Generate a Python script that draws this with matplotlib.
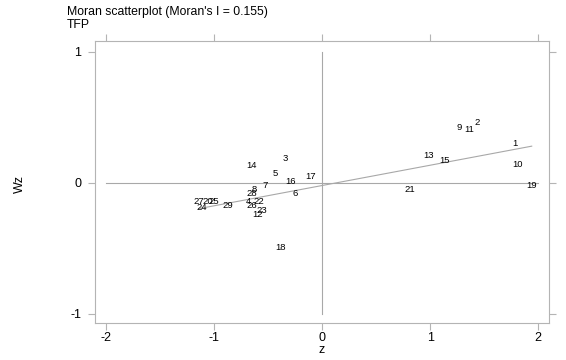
import matplotlib
matplotlib.use("Agg")
import matplotlib.pyplot as plt
import numpy as np

plt.rcParams['font.family'] = ['Liberation Sans', 'DejaVu Sans']

# region ids and their (z, Wz) values
ids = [1, 2, 3, 4, 5, 6, 7, 8, 9, 10, 11, 12, 13, 14, 15,
       16, 17, 18, 19, 20, 21, 22, 23, 24, 25, 26, 27, 28, 29]
z = [1.78, 1.44, -0.34, -0.68, -0.43, -0.25, -0.53, -0.63, 1.27, 1.81,
     1.36, -0.60, 0.99, -0.65, 1.13, -0.29, -0.11, -0.38, 1.94, -1.06,
     0.81, -0.58, -0.56, -1.11, -1.00, -0.65, -1.14, -0.65, -0.87]
wz = [0.30, 0.46, 0.19, -0.14, 0.07, -0.08, -0.02, -0.05, 0.42, 0.14,
      0.41, -0.24, 0.21, 0.13, 0.17, 0.01, 0.05, -0.49, -0.02, -0.14,
      -0.05, -0.14, -0.21, -0.19, -0.14, -0.17, -0.14, -0.08, -0.17]

moran_i = 0.155
intercept = -0.02
x_ticks = [-2, -1, 0, 1, 2]
y_ticks = [-1, 0, 1]

grey = '#b4b4b4'
line_grey = '#a8a8a8'

fig = plt.figure(figsize=(5.66, 3.6), dpi=100)
ax = fig.add_axes([95 / 566, 1 - 323 / 360, 454 / 566, 282 / 360])

# reference lines
ax.plot([-2, 2], [0, 0], color=line_grey, lw=0.8)
ax.plot([0, 0], [-1, 1], color=line_grey, lw=0.8)

# fitted line, slope = Moran's I
xs = np.array([min(z), max(z)])
ax.plot(xs, intercept + moran_i * xs, color=line_grey, lw=0.8)

for i, x, y in zip(ids, z, wz):
    ax.text(x, y, str(i), ha='center', va='center', fontsize=6.8, color='black')

ax.set_xlim(-2.1, 2.1)
ax.set_ylim(-1.07, 1.084)
ax.set_xticks(x_ticks)
ax.set_yticks(y_ticks)
ax.set_xticklabels([str(t) for t in x_ticks])
ax.set_yticklabels([str(t) for t in y_ticks])
ax.tick_params(axis='both', direction='out', length=5, width=0.8, color=grey,
               labelsize=9, top=True, right=True)
ax.tick_params(axis='x', pad=1.5)
ax.tick_params(axis='y', pad=5)
for s in ax.spines.values():
    s.set_color(grey)
    s.set_linewidth(0.8)

fig.text(322 / 566, 1 - 350 / 360, 'z', ha='center', va='center', fontsize=9)
fig.text(20 / 566, 1 - 184 / 360, 'Wz', ha='center', va='center', fontsize=9,
         rotation=90)
fig.text(67 / 566, 1 - 12 / 360, "Moran scatterplot (Moran's I = 0.155)",
         ha='left', va='center', fontsize=8.8)
fig.text(67 / 566, 1 - 25 / 360, 'TFP', ha='left', va='center', fontsize=8.8)

fig.savefig('out.png', dpi=100)
